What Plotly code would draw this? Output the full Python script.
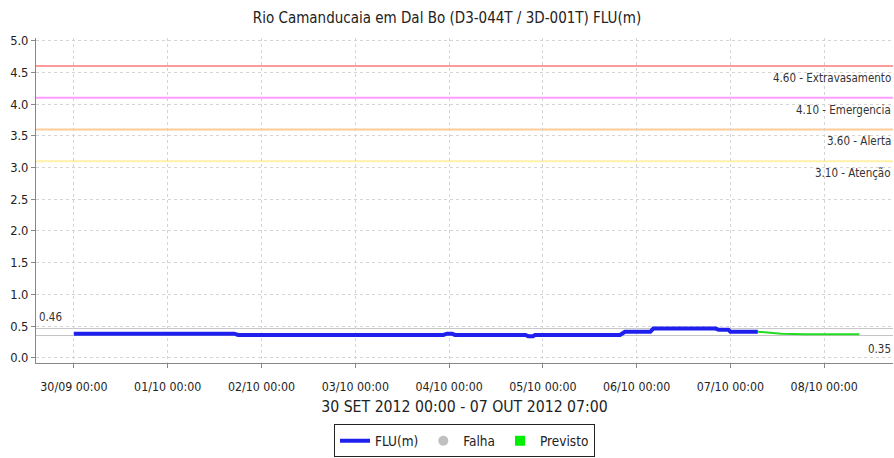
import plotly.graph_objects as go

FONT = "DejaVu Sans Condensed, DejaVu Sans, sans-serif"

title_text = "Rio Camanducaia em Dal Bo (D3-044T / 3D-001T) FLU(m)"
xaxis_title = "30 SET 2012 00:00 - 07 OUT 2012 07:00"

flu_times = [
    "2012-09-30 00:00", "2012-10-01 17:00", "2012-10-01 18:00",
    "2012-10-03 22:30", "2012-10-03 23:30", "2012-10-04 00:45", "2012-10-04 01:30",
    "2012-10-04 19:30", "2012-10-04 20:15", "2012-10-04 21:30", "2012-10-04 22:00",
    "2012-10-05 19:45", "2012-10-05 21:00", "2012-10-06 03:30", "2012-10-06 04:15",
    "2012-10-06 20:15", "2012-10-06 21:00", "2012-10-06 23:30", "2012-10-07 00:00",
    "2012-10-07 07:00",
]
flu_values = [
    0.38, 0.38, 0.36,
    0.36, 0.38, 0.38, 0.36,
    0.36, 0.34, 0.34, 0.36,
    0.36, 0.41, 0.41, 0.46,
    0.46, 0.44, 0.44, 0.41,
    0.41,
]

prev_times = ["2012-10-07 07:00", "2012-10-07 13:00", "2012-10-07 19:00",
              "2012-10-08 01:00", "2012-10-08 07:00", "2012-10-08 09:00"]
prev_values = [0.41, 0.38, 0.37, 0.37, 0.37, 0.37]

threshold_values = [4.60, 4.10, 3.60, 3.10]
threshold_names = ["Extravasamento", "Emergencia", "Alerta", "Atenção"]
threshold_colors = ["#ff9a9a", "#ff9cff", "#ffcc99", "#fff2a8"]

max_value = 0.46
min_value = 0.35

tick_times = ["2012-09-30", "2012-10-01", "2012-10-02", "2012-10-03", "2012-10-04",
              "2012-10-05", "2012-10-06", "2012-10-07", "2012-10-08"]
tick_labels = ["30/09 00:00", "01/10 00:00", "02/10 00:00", "03/10 00:00", "04/10 00:00",
               "05/10 00:00", "06/10 00:00", "07/10 00:00", "08/10 00:00"]
y_ticks = [0, 0.5, 1, 1.5, 2, 2.5, 3, 3.5, 4, 4.5, 5]

x_range = ["2012-09-29 14:17", "2012-10-08 17:36"]
y_range = [-0.083, 5.042]

fig = go.Figure()

for v, c in zip(threshold_values, threshold_colors):
    fig.add_shape(type="line", xref="paper", x0=0, x1=1, yref="y", y0=v, y1=v,
                  line=dict(color=c, width=2), layer="below")
for v, n in zip(threshold_values, threshold_names):
    fig.add_annotation(xref="paper", x=1, yref="y", y=v, yshift=-12,
                       text=f"{v:.2f} - {n}", showarrow=False, xanchor="right",
                       font=dict(family=FONT, size=11.5, color="#333333"))

for v in (max_value, min_value):
    fig.add_shape(type="line", xref="paper", x0=0, x1=1, yref="y", y0=v, y1=v,
                  line=dict(color="#c4c4c4", width=1), layer="below")
fig.add_annotation(xref="paper", x=0, yref="y", y=max_value, yshift=12, xshift=1,
                   text=f"{max_value:.2f}", showarrow=False, xanchor="left",
                   font=dict(family=FONT, size=11.5, color="#333333"))
fig.add_annotation(xref="paper", x=1, yref="y", y=min_value, yshift=-13,
                   text=f"{min_value:.2f}", showarrow=False, xanchor="right",
                   font=dict(family=FONT, size=11.5, color="#333333"))

fig.add_trace(go.Scatter(x=prev_times, y=prev_values, mode="lines",
                         line=dict(color="#22dd22", width=2), showlegend=False,
                         name="Previsto"))
fig.add_trace(go.Scatter(x=flu_times, y=flu_values, mode="lines",
                         line=dict(color="#2020ee", width=4), name="FLU(m)"))
fig.add_trace(go.Scatter(x=[None], y=[None], mode="markers", name="Falha",
                         marker=dict(color="#c0c0c0", symbol="circle", size=10)))
fig.add_trace(go.Scatter(x=[None], y=[None], mode="markers", name="Previsto",
                         marker=dict(color="#00ee00", symbol="square", size=10)))

fig.update_layout(
    width=894, height=458,
    margin=dict(l=36, r=1, t=38, b=92),
    paper_bgcolor="white", plot_bgcolor="white",
    font=dict(family=FONT, size=12.3, color="#222222"),
    title=dict(text=title_text, x=0.5, xanchor="center", y=0.9607, yanchor="middle",
               font=dict(family=FONT, size=15, color="#222222")),
    showlegend=True,
    legend=dict(orientation="h", x=0.5, xanchor="center", y=-0.189, yanchor="top",
                bordercolor="#222222", borderwidth=1, itemwidth=30,
                font=dict(family=FONT, size=13.5, color="#222222"),
                tracegroupgap=0, traceorder="normal"),
)
fig.update_xaxes(
    type="date", range=x_range, tickvals=tick_times, ticktext=tick_labels,
    showgrid=True, gridcolor="#d4d4d4", griddash="3px,3px", gridwidth=1,
    showline=True, linecolor="#888888", linewidth=1,
    ticks="outside", ticklen=4, tickcolor="#888888", ticklabelstandoff=8,
    tickfont=dict(family=FONT, size=12.3, color="#222222"),
    title=dict(text=xaxis_title, standoff=8, font=dict(family=FONT, size=15.7, color="#222222")),
    zeroline=False,
)
fig.update_yaxes(
    range=y_range, tickvals=y_ticks, tickformat=".1f",
    showgrid=True, gridcolor="#d4d4d4", griddash="3px,3px", gridwidth=1,
    showline=True, linecolor="#888888", linewidth=1,
    ticks="outside", ticklen=4, tickcolor="#888888",
    tickfont=dict(family=FONT, size=12.8, color="#222222"),
    zeroline=False,
)

fig.write_html("out.html", config={"displayModeBar": False},
               post_script="document.body.style.margin='0px';")
